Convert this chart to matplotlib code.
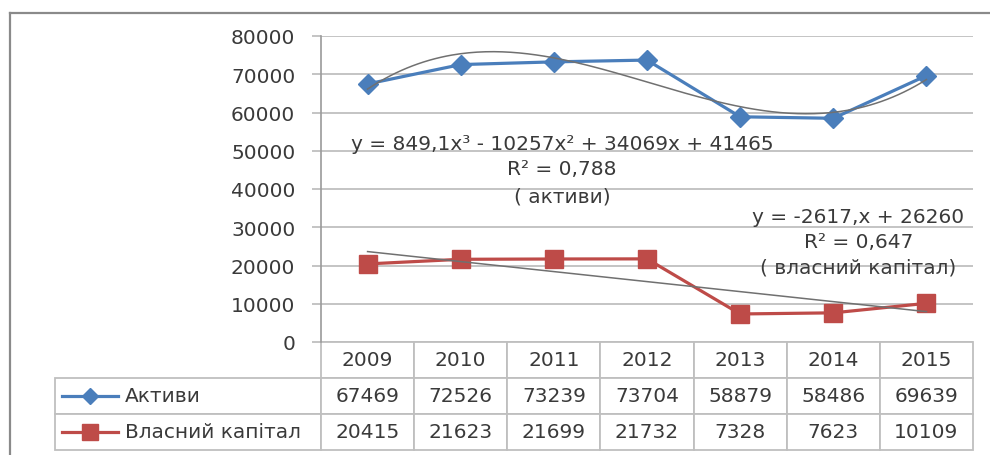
import numpy as np
import matplotlib
matplotlib.use("Agg")
import matplotlib.pyplot as plt
from matplotlib.lines import Line2D

plt.rcParams['font.family'] = ['DejaVu Sans']

years = ['2009', '2010', '2011', '2012', '2013', '2014', '2015']
assets = [67469, 72526, 73239, 73704, 58879, 58486, 69639]
equity = [20415, 21623, 21699, 21732, 7328, 7623, 10109]
series_names = ['Активи', 'Власний капітал']
eq_assets = ['y = 849,1x³ - 10257x² + 34069x + 41465', 'R² = 0,788', '( активи)']
eq_equity = ['y = -2617,x + 26260', 'R² = 0,647', '( власний капітал)']
yticks = [0, 10000, 20000, 30000, 40000, 50000, 60000, 70000, 80000]

FS = 14.5
W, H = 990, 456
fig = plt.figure(figsize=(W / 100, H / 100), dpi=100)
ax_l, ax_r, ax_t, ax_b = 321, 973, 37, 343
ax = fig.add_axes([ax_l / W, 1 - ax_b / H, (ax_r - ax_l) / W, (ax_b - ax_t) / H])

blue = '#4A7EBB'
red = '#BE4B48'
txt = '#3a3a3a'
grid = '#BFBFBF'

x = np.arange(1, len(years) + 1)
ax.set_xlim(0.5, len(years) + 0.5)
ax.set_ylim(0, 80000)
ax.set_yticks(yticks)
ax.yaxis.grid(True, color=grid, lw=1.3)
ax.set_axisbelow(True)
ax.set_xticks([])
for s in ['top', 'right', 'bottom']:
    ax.spines[s].set_visible(False)
ax.spines['left'].set_color('#9a9a9a')
ax.spines['left'].set_linewidth(1.2)
ax.tick_params(axis='y', direction='out', length=6.5, width=1.3, color=grid,
               pad=12, labelsize=FS, labelcolor=txt)

# series
ax.plot(x, assets, color=blue, lw=2.3, marker='D', ms=10, mfc=blue, mec=blue, zorder=3)
ax.plot(x, equity, color=red, lw=2.3, marker='s', ms=13, mfc=red, mec=red, zorder=3)

# trendlines (fitted from the data, as Excel does)
xs = np.linspace(1, len(years), 200)
c3 = np.polyfit(x, assets, 3)
c1 = np.polyfit(x, equity, 1)
ax.plot(xs, np.polyval(c3, xs), color='#707070', lw=1.1, zorder=4)
ax.plot(xs, np.polyval(c1, xs), color='#707070', lw=1.1, zorder=4)

# equations
for s, yv in zip(eq_assets, [51765, 45229, 38170]):
    ax.text(3.09, yv, s, ha='center', va='center', fontsize=FS, color=txt)
for s, yv in zip(eq_equity, [32941, 26405, 19608]):
    ax.text(6.27, yv, s, ha='center', va='center', fontsize=FS, color=txt)

# data table
aw = ax_r - ax_l
ah = ax_b - ax_t
lab_w = (ax_l - 55) / aw
tab_h = (451 - ax_b) / ah
cell_text = [[''] + years,
             [series_names[0]] + [str(v) for v in assets],
             [series_names[1]] + [str(v) for v in equity]]
col_w = [lab_w] + [1 / len(years)] * len(years)
tab = ax.table(cellText=cell_text, colWidths=col_w, cellLoc='center',
               bbox=[-lab_w, -tab_h, lab_w + 1, tab_h])
tab.auto_set_font_size(False)
tab.set_fontsize(FS)
for (r, c), cell in tab.get_celld().items():
    cell.set_edgecolor(grid)
    cell.set_linewidth(1.3)
    cell.get_text().set_color(txt)
    if c == 0:
        cell.get_text().set_ha('left')
        cell.PAD = 70 / (ax_l - 55)
    if r == 0 and c == 0:
        cell.visible_edges = ''

# legend keys inside the table
row_h = tab_h / 3
for k, (col, mk, ms) in enumerate([(blue, 'D', 8), (red, 's', 12)]):
    yc = -row_h * (1.5 + k)
    x0 = (62 - ax_l) / aw
    x1 = (118 - ax_l) / aw
    ax.plot([x0, x1], [yc, yc], color=col, lw=2.3, transform=ax.transAxes, clip_on=False)
    ax.plot([(x0 + x1) / 2], [yc], marker=mk, ms=ms, color=col,
            transform=ax.transAxes, clip_on=False)

# outer chart frame (cropped)
fig.add_artist(Line2D([10 / W, 1.0], [1 - 14 / H, 1 - 14 / H], color='#8a8a8a', lw=1.6,
                      transform=fig.transFigure))
fig.add_artist(Line2D([10 / W, 10 / W], [0, 1 - 14 / H], color='#8a8a8a', lw=1.6,
                      transform=fig.transFigure))

fig.savefig('out.png', dpi=100)
